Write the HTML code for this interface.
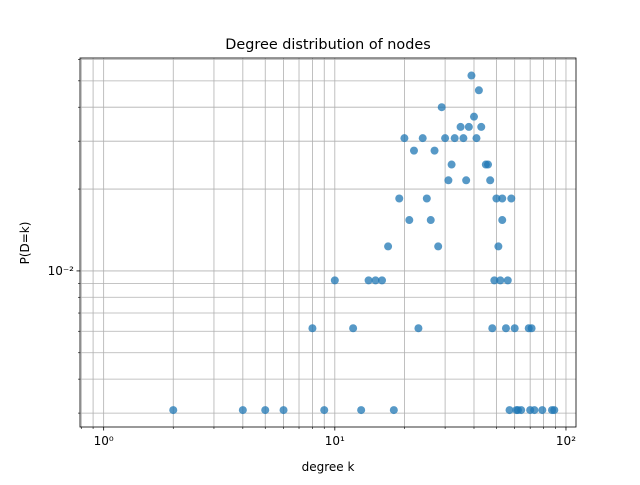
<!DOCTYPE html>
<html><head><meta charset="utf-8"><style>
body{margin:0;background:#fff}
svg text{font-family:"DejaVu Sans","Liberation Sans",sans-serif;fill:#000}
</style></head><body>
<svg id="chart" width="640" height="480" viewBox="0 0 640 480" xmlns="http://www.w3.org/2000/svg">
<rect width="640" height="480" fill="#fff"/>
<g id="grid"></g>
<g id="points"></g>
<rect x="80" y="58" width="496" height="369" fill="none" stroke="#000" stroke-width="0.8"/>
<g id="ticks"></g>
<text x="328" y="49" font-size="14.4" text-anchor="middle">Degree distribution of nodes</text>
<text x="328" y="471" font-size="12" text-anchor="middle">degree k</text>
<text x="0" y="0" font-size="12" text-anchor="middle" transform="translate(29,243) rotate(-90)">P(D=k)</text>
</svg>
<script>
const degrees = [2,4,5,6,9,13,18,8,12,23,10,14,15,16,17,19,20,21,22,24,25,26,27,28,29,30,31,32,33,35,36,37,38,39,40,41,42,43,45,46,47,48,49,50,51,52,53,53,55,56,57,58,60,61,62,64,69,70,71,73,79,87,89];
const counts  = [1,1,1,1,1,1,1,2,2,2,3,3,3,3,4,6,10,5,9,10,6,5,9,4,13,10,7,8,10,11,10,7,11,17,12,10,15,11,8,8,7,2,3,6,4,3,6,5,2,3,1,6,2,1,1,1,2,1,2,1,1,1,1];
const totalNodes = 325;
const xTickLabels = ["10⁰","10¹","10²"];
const xTickValues = [1,10,100];
const yTickLabels = ["10⁻²"];
const yTickValues = [0.01];

const X0=80,X1=576,Y0=427,Y1=58;
const xMin=Math.log10(0.79), xMax=Math.log10(110.5);
const yMin=-2.574, yMax=-1.217;
const xs=v=>X0+(Math.log10(v)-xMin)/(xMax-xMin)*(X1-X0);
const ys=v=>Y0-(Math.log10(v)-yMin)/(yMax-yMin)*(Y0-Y1);
const NS="http://www.w3.org/2000/svg";
const grid=document.getElementById('grid'), tk=document.getElementById('ticks'), pts=document.getElementById('points');
function ln(p,x1,y1,x2,y2,c,w){const l=document.createElementNS(NS,'line');l.setAttribute('x1',x1);l.setAttribute('y1',y1);l.setAttribute('x2',x2);l.setAttribute('y2',y2);l.setAttribute('stroke',c);l.setAttribute('stroke-width',w);p.appendChild(l);return l;}
for(let e=-1;e<=2;e++)for(let m=1;m<10;m++){const v=m*Math.pow(10,e);const x=xs(v);if(x<X0||x>X1)continue;
 const g=ln(grid,x,Y0,x,Y1,'#b0b0b0',0.8);
 
 
 const t=ln(tk,x,Y0,x,Y0+(m===1?3.5:2),'#000',m===1?0.8:0.6);
 
 }
for(let e=-3;e<=-1;e++)for(let m=1;m<10;m++){const v=m*Math.pow(10,e);const y=ys(v);if(y>Y0||y<Y1)continue;
 const g=ln(grid,X0,y,X1,y,'#b0b0b0',0.8);
 
 
 const t=ln(tk,X0,y,X0-(m===1?3.5:2),y,'#000',m===1?0.8:0.6);
 
 }
xTickValues.forEach((v,i)=>{const t=document.createElementNS(NS,'text');t.setAttribute('x',xs(v));t.setAttribute('y',Y0+18);t.setAttribute('font-size','12');t.setAttribute('text-anchor','middle');t.textContent=xTickLabels[i];
 
 
 tk.appendChild(t);});
yTickValues.forEach((v,i)=>{const t=document.createElementNS(NS,'text');t.setAttribute('x',X0-6);t.setAttribute('y',ys(v)+4);t.setAttribute('font-size','12');t.setAttribute('text-anchor','end');t.textContent=yTickLabels[i];
 
 
 tk.appendChild(t);});
degrees.forEach((k,i)=>{const c=document.createElementNS(NS,'circle');c.setAttribute('cx',xs(k));c.setAttribute('cy',ys(counts[i]/totalNodes));c.setAttribute('r',4);c.setAttribute('fill','#1f77b4');c.setAttribute('fill-opacity','0.75');
 
 
 pts.appendChild(c);});
</script>
</body></html>
